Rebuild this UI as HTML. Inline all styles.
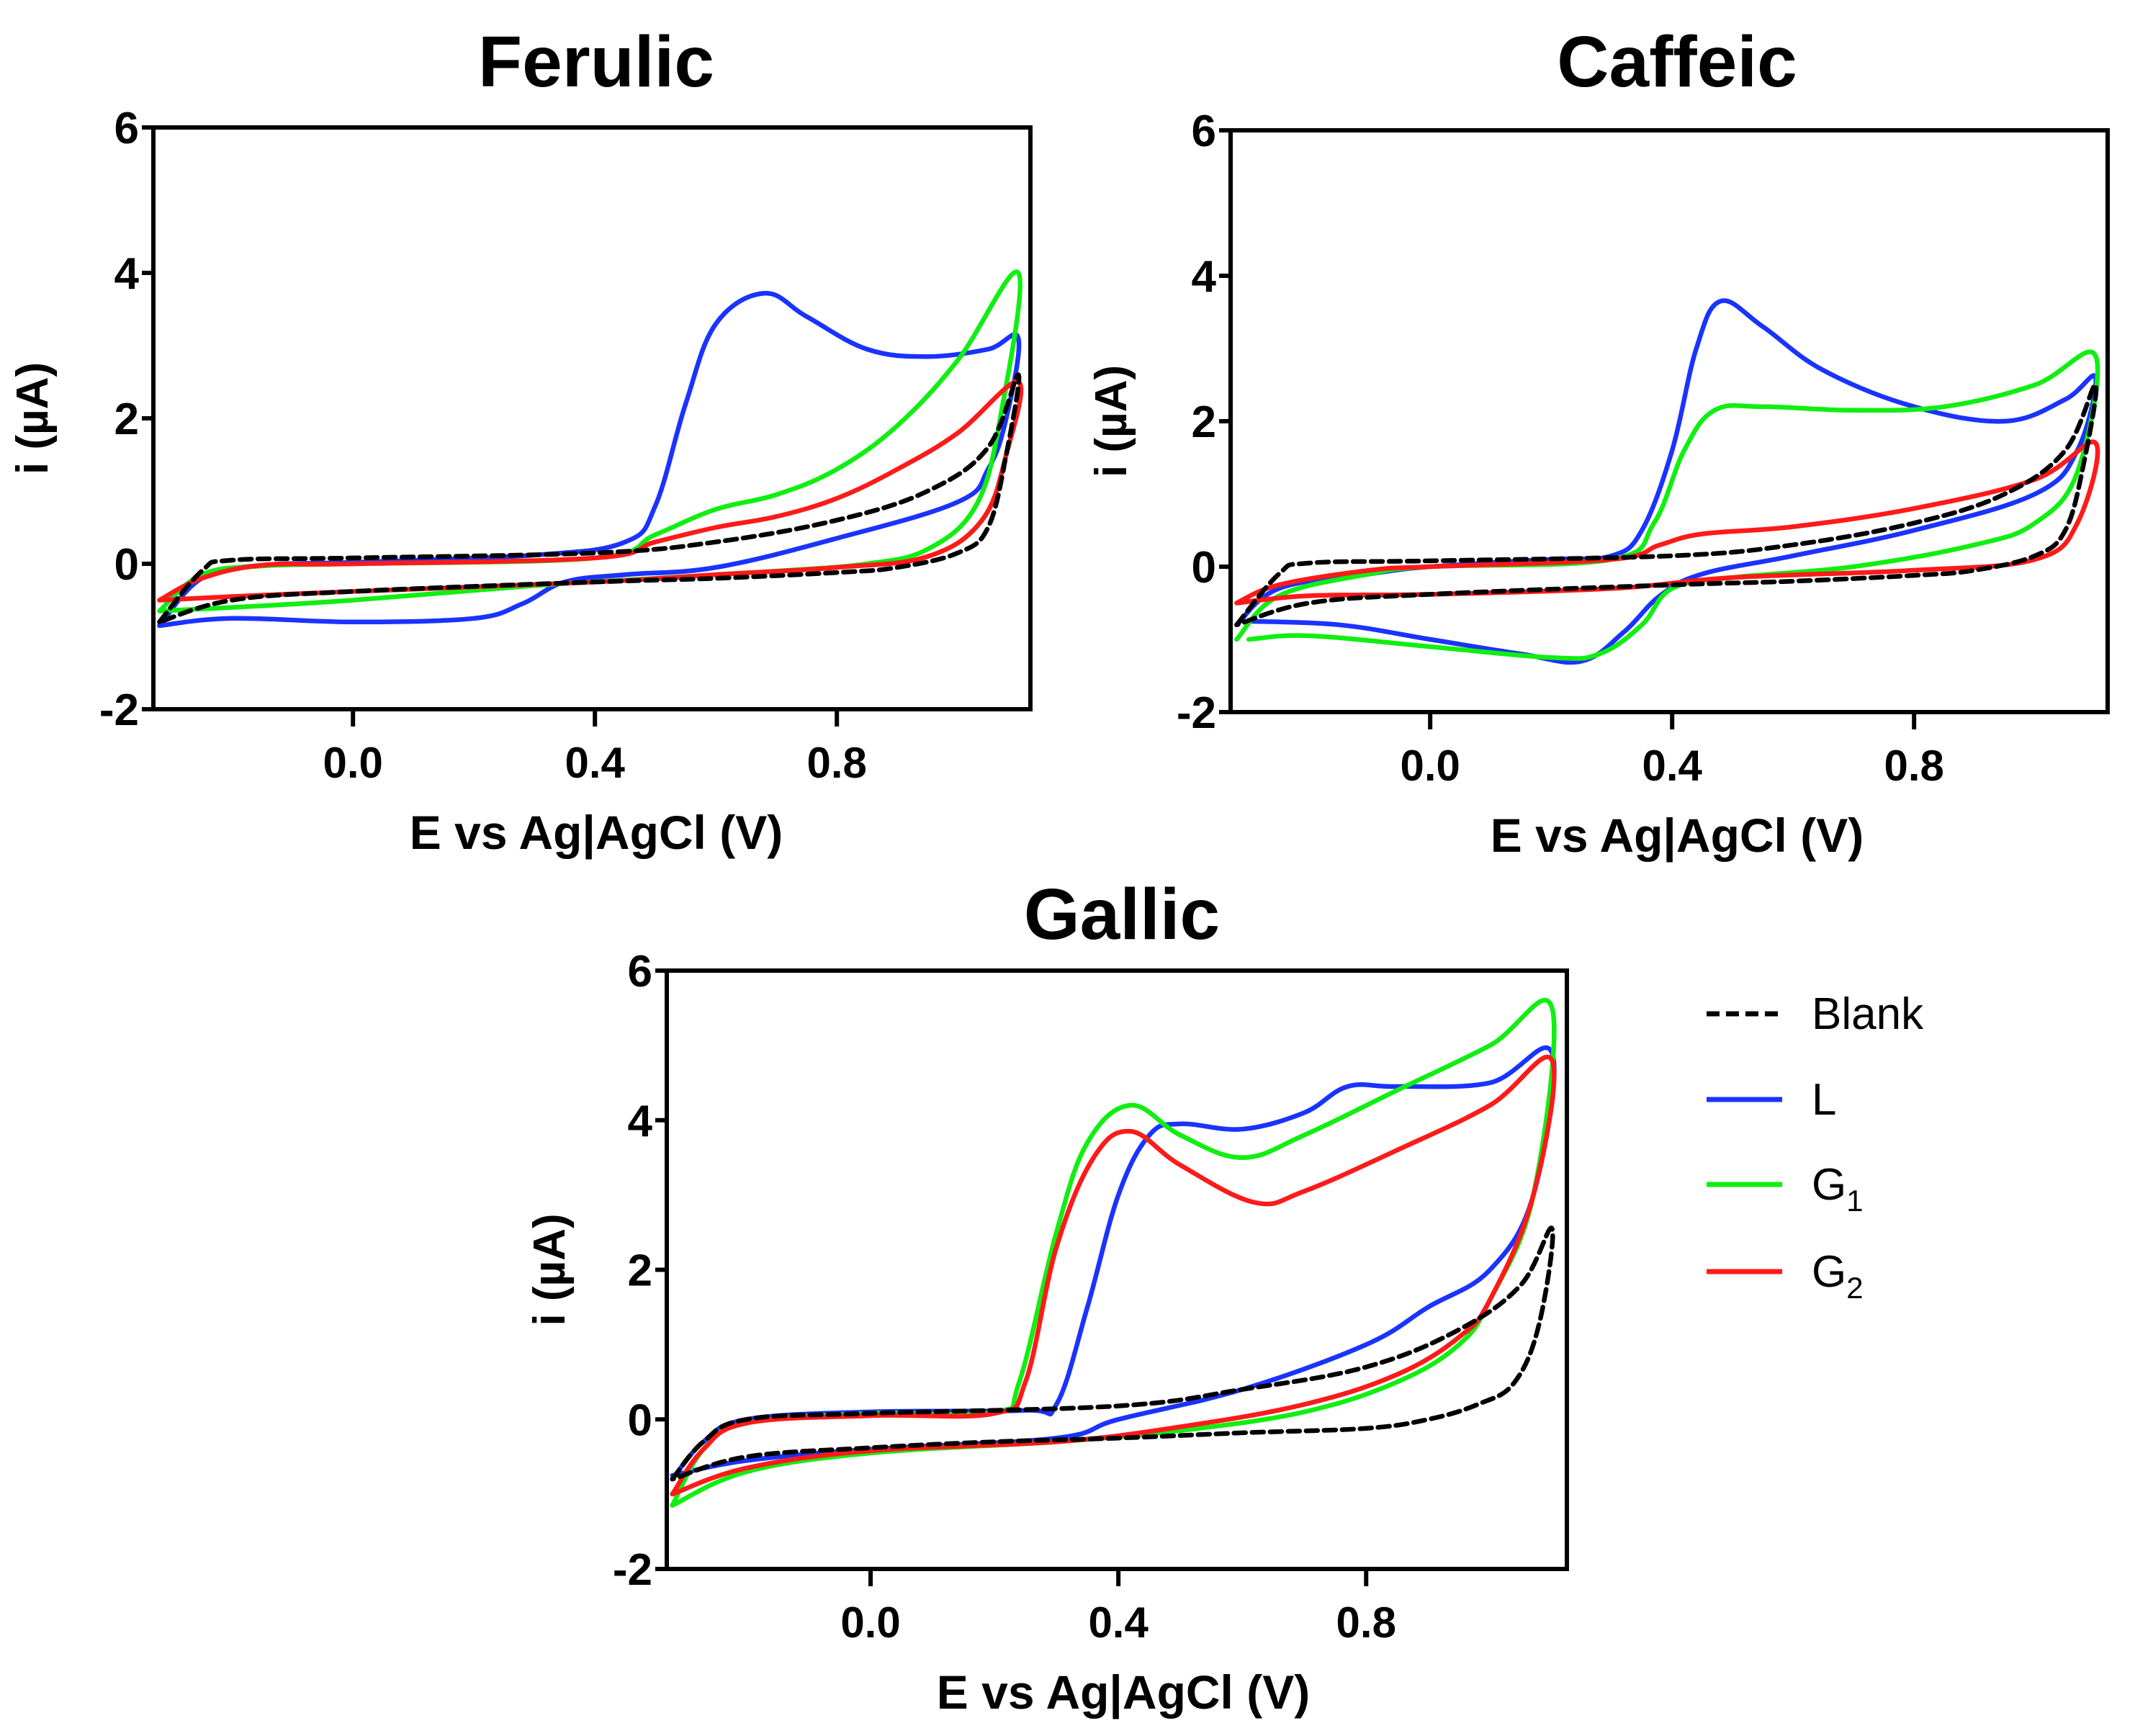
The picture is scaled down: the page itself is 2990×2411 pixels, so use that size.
<!DOCTYPE html>
<html><head><meta charset="utf-8">
<style>
html,body{margin:0;padding:0;background:#fff;}
svg{display:block;font-family:"Liberation Sans",Arial,sans-serif;}
</style></head>
<body>
<svg id="fig" width="2990" height="2411" viewBox="0 0 2990 2411" xmlns="http://www.w3.org/2000/svg">
  <g id="legend">
    <g>
      <line x1="2370" y1="1408" x2="2475" y2="1408" stroke="#000" stroke-width="7" stroke-dasharray="18,9"/>
      <text x="2516" y="1429" font-size="62">Blank</text>
    </g>
    <g>
      <line x1="2370" y1="1527" x2="2475" y2="1527" stroke="#1a33ff" stroke-width="7"/>
      <text x="2516" y="1548" font-size="62">L</text>
    </g>
    <g>
      <line x1="2370" y1="1645" x2="2475" y2="1645" stroke="#11ee11" stroke-width="7"/>
      <text x="2516" y="1666" font-size="62">G<tspan font-size="42" dy="16">1</tspan></text>
    </g>
    <g>
      <line x1="2370" y1="1766" x2="2475" y2="1766" stroke="#ff1a1a" stroke-width="7"/>
      <text x="2516" y="1787" font-size="62">G<tspan font-size="42" dy="16">2</tspan></text>
    </g>
  </g>
</svg>
<script>
// ---- data (E in V, i in µA); each loop: forward sweep then reverse sweep ----
const xTicks = [0.0, 0.4, 0.8];
const xTickLabels = ["0.0", "0.4", "0.8"];
const yTicks = [-2, 0, 2, 4, 6];
const yTickLabels = ["-2", "0", "2", "4", "6"];
const seriesNames = ["Blank", "L", "G1", "G2"];

const ferulicBlankE = [-0.32,-0.25,-0.2,0,0.4,0.6,0.8,0.95,1.05,1.1, 1.08,1.05,1.0,0.9,0.8,0.6,0.4,0.0,-0.2,-0.32];
const ferulicBlankI = [-0.8,-0.1,0.05,0.08,0.15,0.3,0.6,1.0,1.6,2.6, 1.5,0.5,0.15,-0.05,-0.12,-0.2,-0.25,-0.38,-0.5,-0.8];
const ferulicLE = [-0.32,-0.25,-0.15,0,0.3,0.45,0.5,0.55,0.6,0.68,0.75,0.85,0.95,1.05,1.1, 1.08,1.05,1.0,0.8,0.6,0.45,0.35,0.28,0.2,0.0,-0.2,-0.32];
const ferulicLI = [-0.85,-0.2,-0.02,0.02,0.12,0.3,0.8,2.2,3.3,3.72,3.4,2.95,2.85,2.95,3.1, 2.0,1.3,0.85,0.35,-0.05,-0.15,-0.25,-0.55,-0.75,-0.8,-0.75,-0.85];
const ferulicG1E = [-0.32,-0.25,-0.15,0,0.4,0.5,0.6,0.7,0.8,0.9,1.0,1.1, 1.07,1.03,0.95,0.85,0.7,0.5,0.3,0.0,-0.2,-0.32];
const ferulicG1I = [-0.65,-0.15,-0.03,0,0.08,0.4,0.75,0.95,1.3,1.9,2.8,4.0, 2.0,0.8,0.2,0.0,-0.1,-0.2,-0.3,-0.5,-0.6,-0.65];
const ferulicG2E = [-0.32,-0.25,-0.15,0,0.4,0.5,0.6,0.7,0.8,0.9,1.0,1.1, 1.08,1.04,0.95,0.8,0.6,0.4,0.0,-0.2,-0.32];
const ferulicG2I = [-0.5,-0.2,-0.02,0.0,0.08,0.3,0.5,0.65,0.9,1.3,1.8,2.5, 1.5,0.6,0.1,-0.05,-0.15,-0.25,-0.38,-0.45,-0.5];

const caffeicBlankE = [-0.32,-0.25,-0.2,0,0.4,0.6,0.8,0.95,1.05,1.1, 1.08,1.05,1.0,0.9,0.8,0.6,0.4,0.0,-0.2,-0.32];
const caffeicBlankI = [-0.8,-0.1,0.05,0.08,0.15,0.3,0.6,1.0,1.6,2.5, 1.4,0.5,0.15,-0.05,-0.12,-0.2,-0.25,-0.38,-0.5,-0.8];
const caffeicLE = [-0.32,-0.25,-0.1,0,0.2,0.3,0.35,0.4,0.44,0.48,0.55,0.65,0.8,0.95,1.05,1.1, 1.07,1.0,0.8,0.6,0.45,0.38,0.32,0.25,0.15,0.0,-0.15,-0.3];
const caffeicLI = [-0.8,-0.3,-0.1,0.0,0.1,0.15,0.5,1.6,3.0,3.65,3.3,2.7,2.2,2.0,2.3,2.6, 1.6,1.0,0.5,0.15,-0.1,-0.4,-0.9,-1.3,-1.2,-1.0,-0.8,-0.75];
const caffeicG1E = [-0.32,-0.25,-0.1,0,0.3,0.37,0.42,0.47,0.55,0.7,0.85,1.0,1.1, 1.07,1.0,0.9,0.7,0.5,0.4,0.35,0.28,0.2,0.0,-0.2,-0.3];
const caffeicG1I = [-1.0,-0.4,-0.1,0,0.1,0.6,1.6,2.15,2.2,2.15,2.2,2.5,2.9, 1.3,0.6,0.3,0.0,-0.15,-0.3,-0.8,-1.2,-1.25,-1.1,-0.95,-1.0];
const caffeicG2E = [-0.32,-0.25,-0.1,0,0.3,0.38,0.45,0.6,0.8,1.0,1.1, 1.07,1.0,0.8,0.5,0.3,0.0,-0.2,-0.32];
const caffeicG2I = [-0.5,-0.25,-0.05,0.0,0.1,0.3,0.45,0.55,0.8,1.2,1.7, 0.6,0.1,-0.05,-0.15,-0.3,-0.38,-0.4,-0.5];

const gallicBlankE = [-0.32,-0.27,-0.2,0,0.4,0.6,0.8,0.95,1.05,1.1, 1.08,1.04,0.98,0.9,0.8,0.6,0.4,0.2,0,-0.2,-0.32];
const gallicBlankI = [-0.8,-0.3,0,0.08,0.18,0.4,0.7,1.2,1.8,2.55, 1.3,0.5,0.2,0.0,-0.12,-0.18,-0.25,-0.3,-0.38,-0.5,-0.8];
const gallicLE = [-0.32,-0.27,-0.2,0,0.25,0.3,0.35,0.4,0.45,0.5,0.6,0.7,0.77,0.85,1.0,1.1, 1.07,1.0,0.9,0.8,0.6,0.4,0.3,0.0,-0.2,-0.32];
const gallicLI = [-0.8,-0.3,0,0.1,0.12,0.2,1.5,3.0,3.8,3.95,3.88,4.1,4.45,4.45,4.5,4.9, 3.0,2.0,1.5,1.0,0.4,0.0,-0.25,-0.4,-0.55,-0.75];
const gallicG1E = [-0.32,-0.27,-0.2,0,0.2,0.24,0.3,0.35,0.42,0.5,0.6,0.7,0.85,1.0,1.1, 1.07,1.0,0.95,0.85,0.7,0.5,0.3,0,-0.2,-0.32];
const gallicG1I = [-1.15,-0.4,-0.05,0.08,0.1,0.5,2.5,3.7,4.2,3.8,3.5,3.8,4.4,5.0,5.5, 3.0,1.6,1.0,0.5,0.1,-0.15,-0.3,-0.45,-0.7,-1.15];
const gallicG2E = [-0.32,-0.27,-0.2,0,0.2,0.25,0.3,0.36,0.42,0.5,0.62,0.7,0.85,1.0,1.1, 1.07,1.0,0.95,0.85,0.7,0.5,0.3,0,-0.2,-0.32];
const gallicG2I = [-1.0,-0.4,-0.05,0.05,0.08,0.5,2.3,3.5,3.85,3.4,2.9,3.05,3.6,4.2,4.8, 3.0,1.6,1.1,0.6,0.2,-0.1,-0.3,-0.42,-0.65,-1.0];

// ---- layout (pixels; not data) ----
const panels = [
  {key:"ferulic", title:"Ferulic", L:213, T:177, R:1431, B:985, xmin:-0.33, xmax:1.12,
   series:[[ferulicBlankE,ferulicBlankI],[ferulicLE,ferulicLI],[ferulicG1E,ferulicG1I],[ferulicG2E,ferulicG2I]],
   titleX:828, titleY:120, ylabX:66, xtX:828},
  {key:"caffeic", title:"Caffeic", L:1709, T:181, R:2927, B:989, xmin:-0.33, xmax:1.12,
   series:[[caffeicBlankE,caffeicBlankI],[caffeicLE,caffeicLI],[caffeicG1E,caffeicG1I],[caffeicG2E,caffeicG2I]],
   titleX:2329, titleY:120, ylabX:1564, xtX:2329},
  {key:"gallic", title:"Gallic", L:926, T:1348, R:2176, B:2179, xmin:-0.329, xmax:1.124,
   series:[[gallicBlankE,gallicBlankI],[gallicLE,gallicLI],[gallicG1E,gallicG1I],[gallicG2E,gallicG2I]],
   titleX:1558, titleY:1304, ylabX:784, xtX:1560}
];
const colors = ["#000000","#1a33ff","#11ee11","#ff1a1a"];
const NS = "http://www.w3.org/2000/svg";
const svg = document.getElementById("fig");
const legend = document.getElementById("legend");

function mk(tag, attrs, parent){
  const e = document.createElementNS(NS, tag);
  for (const k in attrs) e.setAttribute(k, attrs[k]);
  parent.appendChild(e);
  return e;
}
function smoothPath(pts){
  let d = "M" + pts[0][0].toFixed(1) + "," + pts[0][1].toFixed(1);
  for (let i = 0; i < pts.length - 1; i++){
    const p0 = pts[Math.max(0,i-1)], p1 = pts[i], p2 = pts[i+1], p3 = pts[Math.min(pts.length-1,i+2)];
    const t = 0.18;
    const c1x = p1[0] + (p2[0]-p0[0])*t, c1y = p1[1] + (p2[1]-p0[1])*t;
    const c2x = p2[0] - (p3[0]-p1[0])*t, c2y = p2[1] - (p3[1]-p1[1])*t;
    d += " C" + c1x.toFixed(1)+","+c1y.toFixed(1)+" "+c2x.toFixed(1)+","+c2y.toFixed(1)+" "+p2[0].toFixed(1)+","+p2[1].toFixed(1);
  }
  return d;
}

panels.forEach(p => {
  const g = mk("g", {}, svg);
  
  
  const xs = v => p.L + (v - p.xmin) / (p.xmax - p.xmin) * (p.R - p.L);
  const ys = v => p.B - (v - (-2)) / 8 * (p.B - p.T);

  const title = mk("text", {x:p.titleX, y:p.titleY, "font-size":100, "font-weight":"bold", "text-anchor":"middle"}, g);
  title.textContent = p.title;
  
  

  const series = mk("g", {}, g);
  
  
  [1,2,3,0].forEach(si => {
    const E = p.series[si][0], I = p.series[si][1];
    const pts = E.map((e, k) => [xs(e), ys(I[k])]);
    const path = mk("path", {d:smoothPath(pts), fill:"none", stroke:colors[si], "stroke-width":6.5,
      "stroke-linejoin":"round", "stroke-linecap":"round"}, series);
    if (si === 0) path.setAttribute("stroke-dasharray","16,9");
    
    
  });

  const frame = mk("rect", {x:p.L, y:p.T, width:p.R-p.L, height:p.B-p.T, fill:"none", stroke:"#000", "stroke-width":6}, g);
  
  

  yTicks.forEach((v, k) => {
    const y = ys(v);
    const t = mk("line", {x1:p.L-16, y1:y, x2:p.L, y2:y, stroke:"#000", "stroke-width":6}, g);
    
    
    const lb = mk("text", {x:p.L-20, y:y+22, "font-size":62, "font-weight":"bold", "text-anchor":"end"}, g);
    lb.textContent = yTickLabels[k];
    
    
  });
  xTicks.forEach((v, k) => {
    const x = xs(v);
    const t = mk("line", {x1:x, y1:p.B, x2:x, y2:p.B+24, stroke:"#000", "stroke-width":6}, g);
    
    
    const lb = mk("text", {x:x, y:p.B+95, "font-size":60, "font-weight":"bold", "text-anchor":"middle"}, g);
    lb.textContent = xTickLabels[k];
    
    
  });

  const xt = mk("text", {x:p.xtX, y:p.B+194, "font-size":66, "font-weight":"bold", "text-anchor":"middle"}, g);
  xt.textContent = "E vs Ag|AgCl (V)";
  
  

  const cy = (p.T + p.B) / 2;
  const yt = mk("text", {x:p.ylabX, y:cy, "font-size":62, "font-weight":"bold", "text-anchor":"middle",
    transform:"rotate(-90 " + p.ylabX + " " + cy + ")"}, g);
  yt.textContent = "i (µA)";
  
  
});
svg.appendChild(legend);
</script>
</body></html>
